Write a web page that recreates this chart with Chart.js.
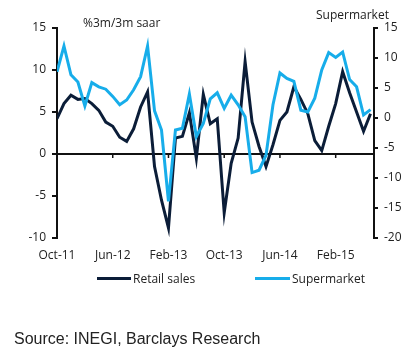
<!DOCTYPE html>
<html><head><meta charset="utf-8">
<script src="https://cdn.jsdelivr.net/npm/chart.js@4.4.1/dist/chart.umd.min.js"></script>
<style>
html,body{margin:0;padding:0;background:#fff;}
#wrap{position:relative;width:419px;height:355px;overflow:hidden;font-family:"Open Sans",sans-serif;color:#222;}
#c{position:absolute;left:0;top:0;}
.t{position:absolute;white-space:nowrap;font-size:12px;line-height:14px;}
.ln{position:absolute;height:3px;}
#src{position:absolute;left:14px;top:330px;font-family:"Liberation Sans",Arial,sans-serif;font-size:16px;line-height:18px;color:#222;white-space:nowrap;}
</style></head>
<body>
<div id="wrap">
<canvas id="c" width="419" height="355"></canvas>
<div class="t" style="left:83px;top:16px;">%3m/3m saar</div>
<div class="t" style="left:316px;top:8px;">Supermarket</div>
<div class="ln" style="left:97px;top:277px;width:34px;background:#0b1d38;"></div>
<div class="t" style="left:133px;top:272px;">Retail sales</div>
<div class="ln" style="left:255px;top:277px;width:35px;background:#17adea;"></div>
<div class="t" style="left:292px;top:272px;">Supermarket</div>
<div id="src">Source: INEGI, Barclays Research</div>
</div>
<script>
const months = ["Oct-11","Nov-11","Dec-11","Jan-12","Feb-12","Mar-12","Apr-12","May-12","Jun-12","Jul-12","Aug-12","Sep-12",
"Oct-12","Nov-12","Dec-12","Jan-13","Feb-13","Mar-13","Apr-13","May-13","Jun-13","Jul-13","Aug-13","Sep-13",
"Oct-13","Nov-13","Dec-13","Jan-14","Feb-14","Mar-14","Apr-14","May-14","Jun-14","Jul-14","Aug-14","Sep-14",
"Oct-14","Nov-14","Dec-14","Jan-15","Feb-15","Mar-15","Apr-15","May-15","Jun-15","Jul-15"];
const retailSales = [4.2,6.0,7.0,6.5,6.6,6.0,5.2,3.8,3.3,2.0,1.5,3.0,
5.6,7.4,-1.5,-5.5,-8.8,1.9,2.1,4.9,-0.5,7.1,3.6,4.2,
-7.0,-1.1,1.9,11.0,3.8,0.9,-1.5,1.1,4.0,5.0,8.0,6.5,
4.8,1.6,0.4,3.3,6.0,9.8,7.3,5.0,2.7,4.8];
const supermarket = [7.7,12.0,7.2,6.0,2.0,5.9,5.2,4.8,3.6,2.2,3.0,4.7,
6.9,12.0,1.2,-2.0,-13.9,-2.0,-1.7,4.0,-3.1,-0.9,3.2,4.2,
1.6,3.8,2.2,0.2,-9.1,-8.7,-6.2,2.2,7.5,6.6,6.1,1.3,
1.0,3.3,8.0,10.9,10.1,11.0,6.4,5.2,0.5,1.4];
const xTickLabels = ["Oct-11","Jun-12","Feb-13","Oct-13","Jun-14","Feb-15"];
const leftTicks = {min:-10, max:15, step:5};
const rightTicks = {min:-20, max:15, step:5};

Chart.defaults.font.family = '"Open Sans", sans-serif';
Chart.defaults.font.size = 12;
Chart.defaults.color = '#222';

const xTickValues = xTickLabels.map(l => months.indexOf(l));

const zeroTicks = {
  id:'zeroTicks',
  beforeDatasetsDraw(chart){
    const xs = chart.scales.x, ys = chart.scales.y, ctx = chart.ctx;
    const y0 = ys.getPixelForValue(0);
    ctx.save();
    ctx.strokeStyle = '#111'; ctx.lineWidth = 1.5;
    xs.ticks.forEach(t => {
      if (t.value > 0) {
        const px = xs.getPixelForValue(t.value);
        ctx.beginPath(); ctx.moveTo(px, y0); ctx.lineTo(px, y0 + 4); ctx.stroke();
      }
    });
    ctx.restore();
  }
};

new Chart(document.getElementById('c'), {
  type:'line',
  data:{
    datasets:[
      {label:'Retail sales', data:retailSales.map((v,i)=>({x:i,y:v})), yAxisID:'y', borderColor:'#0b1d38', borderWidth:3, pointRadius:0, tension:0, order:1},
      {label:'Supermarket', data:supermarket.map((v,i)=>({x:i,y:v})), yAxisID:'y1', borderColor:'#17adea', borderWidth:3, pointRadius:0, tension:0, order:0}
    ]
  },
  options:{
    responsive:false, animation:false, devicePixelRatio:1,
    layout:{padding:{top:28,left:0,right:0,bottom:0}},
    plugins:{legend:{display:false}, tooltip:{enabled:false}},
    scales:{
      x:{type:'linear', min:0, max:45.5,
        grid:{display:false, drawTicks:false}, border:{display:false},
        ticks:{autoSkip:false, maxRotation:0, padding:10,
          callback:(v)=> months[v] || ''},
        afterBuildTicks(s){ s.ticks = xTickValues.map(v => ({value:v})); },
        afterFit(s){ s.height = 355 - 238; }
      },
      y:{position:'left', min:leftTicks.min, max:leftTicks.max,
        ticks:{stepSize:leftTicks.step, padding:6},
        grid:{color:(c)=> (c.tick && c.tick.value === 0) ? '#111' : 'rgba(0,0,0,0)', tickColor:'#111', tickLength:5, lineWidth:2},
        border:{color:'#111', width:2},
        afterFit(s){ s.width = 57; }
      },
      y1:{position:'right', min:rightTicks.min, max:rightTicks.max,
        ticks:{stepSize:rightTicks.step, padding:6},
        grid:{drawOnChartArea:false, tickColor:'#111', tickLength:4, lineWidth:2},
        border:{color:'#111', width:2},
        afterFit(s){ s.width = 419 - 374; }
      }
    }
  },
  plugins:[zeroTicks]
});
</script>
</body></html>
